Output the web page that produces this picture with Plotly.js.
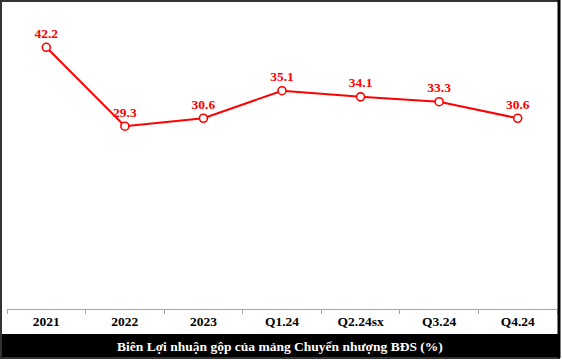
<!DOCTYPE html>
<html>
<head>
<meta charset="utf-8">
<script src="https://cdn.plot.ly/plotly-3.0.1.min.js"></script>
<style>html,body{margin:0;padding:0;background:#fff;}#chart{width:562px;height:360px;}</style>
</head>
<body>
<div id="chart"></div>
<script>
const categories = ["2021", "2022", "2023", "Q1.24", "Q2.24sx", "Q3.24", "Q4.24"];
const margins = [42.2, 29.3, 30.6, 35.1, 34.1, 33.3, 30.6];
const labels = margins.map(v => v.toFixed(1));
const chartTitle = "Biên Lợi nhuận gộp của mảng Chuyển nhượng BĐS (%)";

const serif = "Liberation Serif, Times New Roman, serif";

const trace = {
  x: categories,
  y: margins,
  type: "scatter",
  mode: "lines+markers+text",
  text: labels,
  textposition: "top center",
  textfont: {family: serif, size: 13.5, color: "#ff0000", weight: "bold"},
  line: {color: "#ff0000", width: 2},
  marker: {symbol: "circle", size: 8, color: "#ffffff", line: {color: "#ff0000", width: 1.6}},
  cliponaxis: false,
  hoverinfo: "skip"
};

const layout = {
  width: 562,
  height: 360,
  margin: {l: 7, r: 5, t: 10, b: 51},
  paper_bgcolor: "#ffffff",
  plot_bgcolor: "#ffffff",
  showlegend: false,
  xaxis: {
    type: "category",
    range: [-0.5, 6.5],
    showgrid: false,
    zeroline: false,
    showline: true,
    linecolor: "#a6a6a6",
    linewidth: 1,
    ticks: "outside",
    tickson: "boundaries",
    ticklen: 4,
    tickcolor: "#a6a6a6",
    tickfont: {family: serif, size: 13.5, color: "#000000", weight: "bold"},
    fixedrange: true
  },
  yaxis: {
    range: [-0.57, 48.29],
    visible: false,
    showgrid: false,
    zeroline: false,
    fixedrange: true
  },
  shapes: [
    {type: "rect", xref: "paper", yref: "paper", xsizemode: "pixel", ysizemode: "pixel",
     xanchor: 0, yanchor: 0, x0: -7, x1: 553, y0: -25, y1: -49,
     fillcolor: "#000000", line: {width: 0}, layer: "above"},
    {type: "rect", xref: "paper", yref: "paper", xsizemode: "pixel", ysizemode: "pixel",
     xanchor: 0, yanchor: 0, x0: -6, x1: 552, y0: -49, y1: 308,
     fillcolor: "rgba(0,0,0,0)", line: {color: "#333333", width: 2}, layer: "above"},
    {type: "line", xref: "paper", yref: "paper", xsizemode: "pixel", ysizemode: "pixel",
     xanchor: 0, yanchor: 0, x0: 552, x1: 552, y0: -49, y1: 309,
     line: {color: "#000000", width: 3}, layer: "above"}
  ],
  annotations: [
    {xref: "paper", yref: "paper", x: 0.497, y: 0, yshift: -37, showarrow: false,
     text: chartTitle, font: {family: serif, size: 13.5, color: "#ffffff", weight: "bold"},
     xanchor: "center", yanchor: "middle"}
  ]
};

Plotly.newPlot("chart", [trace], layout, {displayModeBar: false, staticPlot: true});
</script>
</body>
</html>
